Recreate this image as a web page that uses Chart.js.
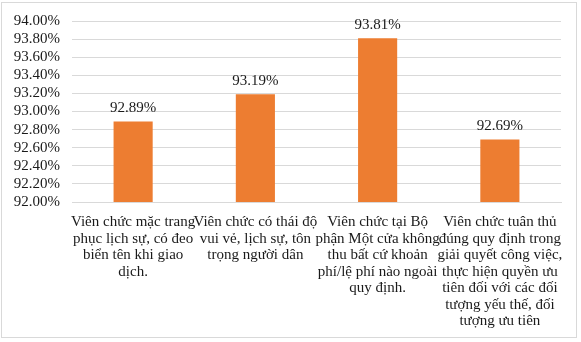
<!DOCTYPE html>
<html>
<head>
<meta charset="utf-8">
<script src="https://cdn.jsdelivr.net/npm/chart.js@4/dist/chart.umd.min.js"></script>
<style>
  html, body { margin: 0; padding: 0; background: #fff; }
  #wrap { position: relative; width: 581px; height: 342px; }
  #frame { position: absolute; left: 1px; top: 2px; width: 574px; height: 334px; border: 1px solid #d9d9d9; pointer-events: none; }
</style>
</head>
<body>
<div id="wrap">
  <canvas id="barChart" width="581" height="342"></canvas>
  <div id="frame"></div>
</div>
<script>
// category labels, already split into lines as in the picture
const categories = [
    ['Viên chức mặc trang', 'phục lịch sự, có đeo', 'biển tên khi giao', 'dịch.'],
    ['Viên chức có thái độ', 'vui vẻ, lịch sự, tôn', 'trọng người dân'],
    ['Viên chức tại Bộ', 'phận Một cửa không', 'thu bất cứ khoản', 'phí/lệ phí nào ngoài', 'quy định.'],
    ['Viên chức tuân thủ', 'đúng quy định trong', 'giải quyết công việc,', 'thực hiện quyền ưu', 'tiên đối với các đối', 'tượng yếu thế, đối', 'tượng ưu tiên']
];
const values = [92.89, 93.19, 93.81, 92.69];
const yMin = 92;
const yMax = 94;
const yStep = 0.2;

const fontFamily = '"Liberation Serif", "Times New Roman", serif';
const fontSize = 15;
const textColor = '#1a1a1a';

// draws the value above each bar
const valueLabels = {
    id: 'valueLabels',
    afterDatasetsDraw(chart) {
        const ctx = chart.ctx;
        const meta = chart.getDatasetMeta(0);
        ctx.save();
        ctx.font = fontSize + 'px ' + fontFamily;
        ctx.fillStyle = textColor;
        ctx.textAlign = 'center';
        ctx.textBaseline = 'middle';
        meta.data.forEach((bar, i) => {
            ctx.fillText(values[i].toFixed(2) + '%', bar.x, bar.y - 13);
        });
        ctx.restore();
    }
};

new Chart(document.getElementById('barChart'), {
    type: 'bar',
    data: {
        labels: categories,
        datasets: [{
            data: values,
            backgroundColor: '#ed7d31',
            borderWidth: 0,
            barPercentage: 0.32,
            categoryPercentage: 1
        }]
    },
    options: {
        responsive: false,
        animation: false,
        layout: { padding: { left: 5, right: 20, top: 0, bottom: 0 } },
        plugins: {
            legend: { display: false },
            tooltip: { enabled: false }
        },
        scales: {
            x: {
                grid: { display: false, drawTicks: false },
                border: { color: '#d9d9d9' },
                ticks: {
                    color: textColor,
                    font: { family: fontFamily, size: fontSize, lineHeight: 1.1 },
                    maxRotation: 0,
                    autoSkip: false,
                    padding: 12
                },
                afterFit(scale) { scale.height = 140; }
            },
            y: {
                min: yMin,
                max: yMax,
                grid: { color: '#d9d9d9', drawTicks: false },
                border: { display: false },
                ticks: {
                    stepSize: yStep,
                    autoSkip: false,
                    color: textColor,
                    font: { family: fontFamily, size: fontSize },
                    padding: 12,
                    callback: v => v.toFixed(2) + '%'
                },
                afterFit(scale) { scale.width = 67; }
            }
        }
    },
    plugins: [valueLabels]
});
</script>
</body>
</html>
